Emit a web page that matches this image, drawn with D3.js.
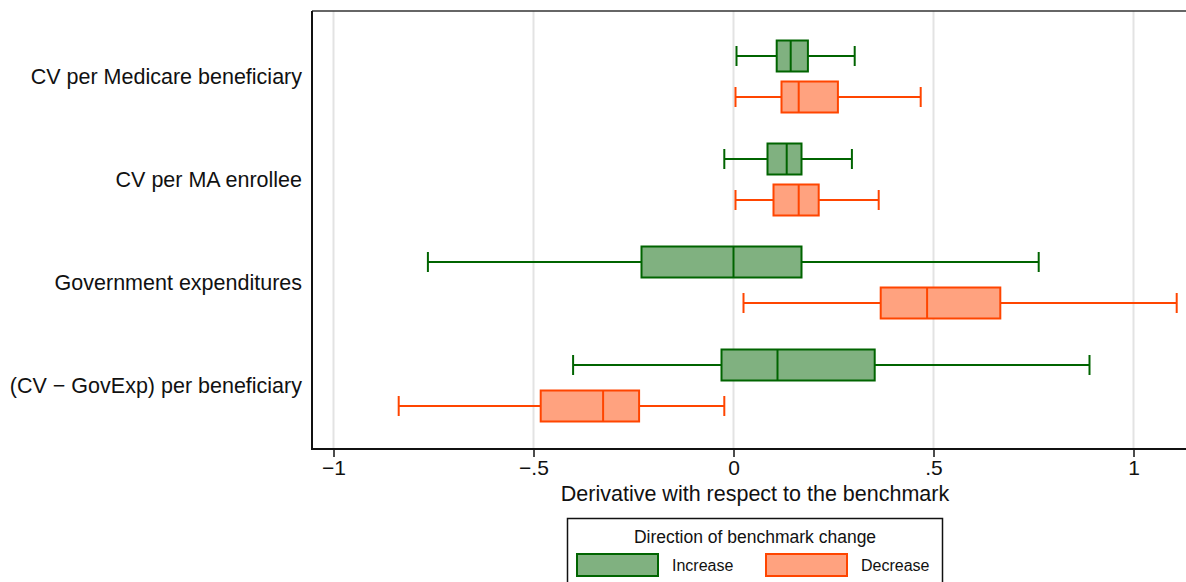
<!DOCTYPE html>
<html>
<head>
<meta charset="utf-8">
<script src="https://cdn.jsdelivr.net/npm/d3@7"></script>
<style>
  body { margin: 0; background: #fff; }
  svg text { font-family: "Liberation Sans", Arial, Helvetica, sans-serif; fill: #111; }
</style>
</head>
<body>
<div id="chart"></div>
<script>
// categories (top to bottom)
var categories = ["CV per Medicare beneficiary", "CV per MA enrollee", "Government expenditures", "(CV \u2212 GovExp) per beneficiary"];
var seriesNames = ["Increase", "Decrease"];

// box stats per category: [min, q1, median, q3, max]
var increaseStats = [
    [0.0075, 0.108, 0.143, 0.186, 0.303],
    [-0.023, 0.085, 0.133, 0.170, 0.296],
    [-0.764, -0.230, 0.000, 0.170, 0.763],
    [-0.401, -0.030, 0.110, 0.353, 0.890]
];
var decreaseStats = [
    [0.005, 0.120, 0.163, 0.261, 0.468],
    [0.005, 0.100, 0.163, 0.213, 0.363],
    [0.025, 0.368, 0.484, 0.667, 1.108],
    [-0.837, -0.482, -0.326, -0.236, -0.023]
];

var xTicks = [-1, -0.5, 0, 0.5, 1];
var xTickLabels = ["\u22121", "\u2212.5", "0", ".5", "1"];

var w = 1186, h = 582;
var plot = {left: 312, top: 11, right: 1200, bottom: 449};

var colors = {
    Increase: {stroke: "#006400", fill: "#80b180"},
    Decrease: {stroke: "#ff4500", fill: "#ffa27f"}
};

var svg = d3.select("#chart")
    .append("svg")
    .attr("width", w)
    .attr("height", h);

var xScale = d3.scaleLinear()
    .domain([-1, 1])
    .range([333.5, 1133.5]);

var yScale = d3.scalePoint()
    .domain(categories)
    .range([76.5, 385.5]);

var offset = d3.scalePoint()
    .domain(seriesNames)
    .range([-20.5, 20.5]);

var boxH = 31, capH = 20;

/* gridlines */
svg.append("g")
    .selectAll("line")
    .data(xTicks)
    .enter()
    .append("line")
    .attr("x1", function (d) { return xScale(d); })
    .attr("x2", function (d) { return xScale(d); })
    .attr("y1", plot.top)
    .attr("y2", plot.bottom)
    .attr("stroke", "#e3e3e3")
    .attr("stroke-width", 2);

/* frame */
svg.append("line")
    .attr("x1", plot.left).attr("x2", plot.right)
    .attr("y1", plot.top).attr("y2", plot.top)
    .attr("stroke", "#333").attr("stroke-width", 1.5);
svg.append("line")
    .attr("x1", plot.left).attr("x2", plot.left)
    .attr("y1", plot.top).attr("y2", plot.bottom)
    .attr("stroke", "#111").attr("stroke-width", 2);

/* x axis */
var xAxis = d3.axisBottom(xScale)
    .tickValues(xTicks)
    .tickSize(8)
    .tickFormat(function (d, i) { return xTickLabels[i]; });

var axisG = svg.append("g")
    .attr("transform", "translate(0," + plot.bottom + ")")
    .call(xAxis);
axisG.select(".domain").remove();
axisG.selectAll(".tick line").attr("stroke", "#111").attr("stroke-width", 1.5);
axisG.selectAll(".tick text")
    .attr("y", 11)
    .style("font-size", "21px")
    .style("fill", "#111");

svg.append("line")
    .attr("x1", plot.left - 1).attr("x2", plot.right)
    .attr("y1", plot.bottom).attr("y2", plot.bottom)
    .attr("stroke", "#111").attr("stroke-width", 2);

svg.append("text")
    .attr("x", 755)
    .attr("y", 501)
    .attr("text-anchor", "middle")
    .style("font-size", "21.5px")
    .text("Derivative with respect to the benchmark");

/* category labels */
svg.append("g")
    .selectAll("text")
    .data(categories)
    .enter()
    .append("text")
    .attr("x", 302)
    .attr("y", function (d) { return yScale(d); })
    .attr("dy", "0.35em")
    .attr("text-anchor", "end")
    .style("font-size", "21.5px")
    .text(function (d) { return d; });

/* boxes */
function drawBoxes(name, stats) {
    var c = colors[name];
    var g = svg.append("g")
        .selectAll("g")
        .data(stats)
        .enter()
        .append("g")
        .attr("transform", function (d, i) {
            return "translate(0," + (yScale(categories[i]) + offset(name)) + ")";
        });

    // whiskers
    g.append("line")
        .attr("x1", function (d) { return xScale(d[0]); })
        .attr("x2", function (d) { return xScale(d[1]); })
        .attr("stroke", c.stroke).attr("stroke-width", 2);
    g.append("line")
        .attr("x1", function (d) { return xScale(d[3]); })
        .attr("x2", function (d) { return xScale(d[4]); })
        .attr("stroke", c.stroke).attr("stroke-width", 2);
    // caps
    g.append("line")
        .attr("x1", function (d) { return xScale(d[0]); })
        .attr("x2", function (d) { return xScale(d[0]); })
        .attr("y1", -capH / 2).attr("y2", capH / 2)
        .attr("stroke", c.stroke).attr("stroke-width", 2);
    g.append("line")
        .attr("x1", function (d) { return xScale(d[4]); })
        .attr("x2", function (d) { return xScale(d[4]); })
        .attr("y1", -capH / 2).attr("y2", capH / 2)
        .attr("stroke", c.stroke).attr("stroke-width", 2);
    // box
    g.append("rect")
        .attr("x", function (d) { return xScale(d[1]); })
        .attr("width", function (d) { return xScale(d[3]) - xScale(d[1]); })
        .attr("y", -boxH / 2)
        .attr("height", boxH)
        .attr("fill", c.fill)
        .attr("stroke", c.stroke)
        .attr("stroke-width", 2);
    // median
    g.append("line")
        .attr("x1", function (d) { return xScale(d[2]); })
        .attr("x2", function (d) { return xScale(d[2]); })
        .attr("y1", -boxH / 2).attr("y2", boxH / 2)
        .attr("stroke", c.stroke).attr("stroke-width", 2);
}

drawBoxes("Increase", increaseStats);
drawBoxes("Decrease", decreaseStats);

/* legend */
var legend = svg.append("g");
legend.append("rect")
    .attr("x", 567.5).attr("y", 518.5)
    .attr("width", 375).attr("height", 80)
    .attr("fill", "#fff")
    .attr("stroke", "#111")
    .attr("stroke-width", 1.5);
legend.append("text")
    .attr("x", 755).attr("y", 537)
    .attr("dy", "0.35em")
    .attr("text-anchor", "middle")
    .style("font-size", "17.5px")
    .text("Direction of benchmark change");

var legendX = {Increase: 577, Decrease: 766};
var items = legend.selectAll(".item")
    .data(seriesNames)
    .enter()
    .append("g")
    .attr("class", "item")
    .attr("transform", function (d) { return "translate(" + legendX[d] + ",554)"; });
items.append("rect")
    .attr("width", 81).attr("height", 22)
    .attr("fill", function (d) { return colors[d].fill; })
    .attr("stroke", function (d) { return colors[d].stroke; })
    .attr("stroke-width", 2);
items.append("text")
    .attr("x", 95).attr("y", 11)
    .attr("dy", "0.35em")
    .style("font-size", "16px")
    .text(function (d) { return d; });
</script>
</body>
</html>
